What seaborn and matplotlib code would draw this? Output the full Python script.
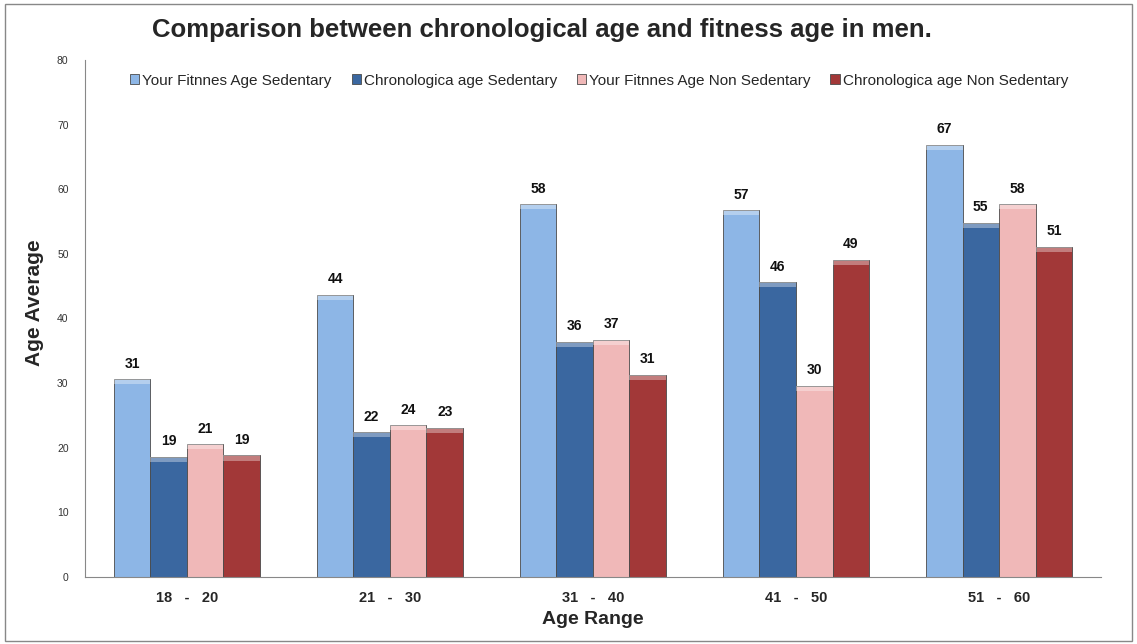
import numpy as np
import pandas as pd
import matplotlib
matplotlib.use("Agg")
import matplotlib.pyplot as plt
from matplotlib.patches import Rectangle
import seaborn as sns

# data
age_ranges = ["18   -   20", "21   -   30", "31   -   40", "41   -   50", "51   -   60"]
series = [
    "Your Fitnnes Age Sedentary",
    "Chronologica age Sedentary",
    "Your Fitnnes Age Non Sedentary",
    "Chronologica age Non Sedentary",
]
fit_sedentary = [30.6, 43.7, 57.7, 56.8, 66.9]
chrono_sedentary = [18.6, 22.4, 36.4, 45.6, 54.8]
fit_non_sedentary = [20.6, 23.5, 36.7, 29.6, 57.7]
chrono_non_sedentary = [18.8, 23.1, 31.3, 49.1, 51.1]
colors = ["#8DB6E6", "#3A67A0", "#F0B8B8", "#A23838"]

df = pd.DataFrame({
    "range": age_ranges * 4,
    "series": np.repeat(series, len(age_ranges)),
    "age": fit_sedentary + chrono_sedentary + fit_non_sedentary + chrono_non_sedentary,
})

sns.set_style("white")
plt.rcParams["font.family"] = ["Liberation Sans", "DejaVu Sans"]

fig = plt.figure(figsize=(11.37, 6.44), dpi=100)
ax = fig.add_axes([0.075, 0.104, 0.893, 0.803])

sns.barplot(data=df, x="range", y="age", hue="series", palette=colors,
            width=0.72, saturation=1, edgecolor="#4a4a4a", linewidth=0.6, ax=ax)

# light cap on top of each bar, a nod to the bevelled look of the original
for cont in ax.containers:
    for b in cont:
        ax.add_patch(Rectangle((b.get_x(), b.get_height() - 0.8), b.get_width(), 0.8,
                               facecolor="white", alpha=0.35, linewidth=0))
    vals = [b.get_height() for b in cont]
    ax.bar_label(cont, labels=[f"{v:.0f}" for v in vals], padding=6,
                 fontsize=10, fontweight="bold", color="#111111")

ax.set_ylim(0, 80)
ax.set_xlim(-0.5, len(age_ranges) - 0.5)
ax.set_yticks(range(0, 81, 10))
ax.tick_params(axis="y", labelsize=7.5, colors="#333333", length=0, pad=12)
ax.tick_params(axis="x", labelsize=10.5, length=0, pad=10)
for lbl in ax.get_xticklabels():
    lbl.set_fontweight("bold")
ax.set_xticks(np.arange(-0.5, len(age_ranges)), minor=True)
ax.tick_params(axis="x", which="minor", length=4, color="#888888", direction="out")

ax.set_xlabel("Age Range", fontsize=14, fontweight="bold")
ax.xaxis.set_label_coords(0.5, -0.065)
ax.set_ylabel("Age Average", fontsize=15, fontweight="bold")
ax.yaxis.set_label_coords(-0.041, 0.53)

for side in ["top", "right"]:
    ax.spines[side].set_visible(False)
for side in ["left", "bottom"]:
    ax.spines[side].set_color("#888888")
    ax.spines[side].set_linewidth(0.8)

ax.legend(loc="upper center", bbox_to_anchor=(0.506, 1.0), ncol=4, frameon=False,
          fontsize=11, handlelength=0.6, handleheight=0.6, handletextpad=0.2,
          columnspacing=1.3)

fig.text(0.477, 1 - 30 / 644, "Comparison between chronological age and fitness age in men.",
         ha="center", va="center", fontsize=18.5, fontweight="bold")

fig.patches.append(Rectangle((0.004, 0.004), 0.992, 0.99, transform=fig.transFigure,
                             fill=False, edgecolor="#888888", linewidth=1.0))

fig.savefig("out.png", dpi=100)
